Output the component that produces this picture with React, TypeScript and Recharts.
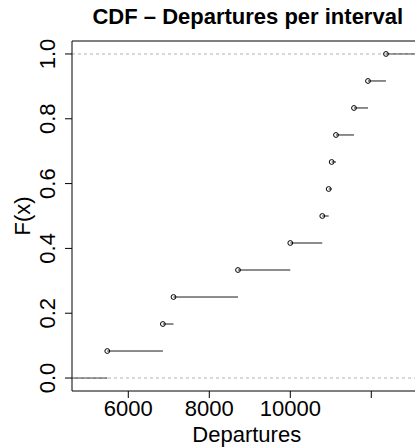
import React from "react";
import {
  ComposedChart,
  XAxis,
  YAxis,
  Scatter,
  ReferenceLine,
} from "recharts";

// Sorted observations (knots of the empirical CDF)
const departures = [5481, 6854, 7116, 8709, 10000, 10790, 10948, 11022, 11128, 11573, 11919, 12363];
// Cumulative probabilities F(x) at each knot
const cdfValues = [1 / 12, 2 / 12, 3 / 12, 4 / 12, 5 / 12, 6 / 12, 7 / 12, 8 / 12, 9 / 12, 10 / 12, 11 / 12, 1];
const xTicks = [6000, 8000, 10000, 12000];
const xTickLabels = ["6000", "8000", "10000", ""];
const yTicks = [0, 0.2, 0.4, 0.6, 0.8, 1.0];
const yTickLabels = ["0.0", "0.2", "0.4", "0.6", "0.8", "1.0"];
const xDomain = [4610, 13240];
const yDomain = [-0.04, 1.04];

const title = "CDF \u2013 Departures per interval";
const xTitle = "Departures";
const yTitle = "F(x)";

const FONT = "'Liberation Sans', Arial, Helvetica, sans-serif";

const W = 430;
const H = 448;
const PLOT_LEFT = 72;
const PLOT_RIGHT = 421.5;
const PLOT_TOP = 41;
const PLOT_BOTTOM = 391;

const points = departures.map((x, i) => ({ x, y: cdfValues[i] }));

// step segments: [xmin..first knot] at 0, then each knot to next, last to xmax
const segments = [
  { x1: xDomain[0], x2: departures[0], y: 0 },
  ...departures.map((x, i) => ({
    x1: x,
    x2: i < departures.length - 1 ? departures[i + 1] : xDomain[1],
    y: cdfValues[i],
  })),
];

const XTick = (props: any) => {
  const { x, payload } = props;
  const idx = xTicks.indexOf(payload.value);
  const label = idx >= 0 ? xTickLabels[idx] : "";
  return (
    <text x={x} y={416} textAnchor="middle" fontFamily={FONT} fontSize={22} fill="#000">
      {label}
    </text>
  );
};

const YTick = (props: any) => {
  const { y, payload } = props;
  const idx = yTicks.findIndex((t) => Math.abs(t - payload.value) < 1e-9);
  const label = idx >= 0 ? yTickLabels[idx] : "";
  const bx = 55;
  return (
    <text
      x={bx}
      y={y}
      transform={`rotate(-90 ${bx} ${y})`}
      textAnchor="middle"
      fontFamily={FONT}
      fontSize={22}
      fill="#000"
    >
      {label}
    </text>
  );
};

const OpenCircle = (props: any) => {
  const { cx, cy } = props;
  return <circle cx={cx} cy={cy} r={2.4} fill="none" stroke="#000" strokeWidth={1} />;
};

export default function App() {
  return (
    <div style={{ position: "absolute", left: 0, top: 0, width: 415, height: 448, overflow: "hidden", background: "#fff" }}>
      <ComposedChart
        width={W}
        height={H}
        margin={{ top: PLOT_TOP, right: W - PLOT_RIGHT, bottom: 0, left: 0 }}
        data={points}
      >
        <XAxis
          type="number"
          dataKey="x"
          domain={xDomain}
          ticks={xTicks}
          allowDataOverflow
          height={H - PLOT_BOTTOM}
          tickSize={7}
          tickLine={{ stroke: "#000", strokeWidth: 1 }}
          axisLine={{ stroke: "#000", strokeWidth: 1 }}
          tick={<XTick />}
          interval={0}
          label={{
            content: () => (
              <text
                x={(PLOT_LEFT + PLOT_RIGHT) / 2}
                y={441.5}
                textAnchor="middle"
                fontFamily={FONT}
                fontSize={22}
                fill="#000"
              >
                {xTitle}
              </text>
            ),
          }}
        />
        <YAxis
          type="number"
          dataKey="y"
          domain={yDomain}
          ticks={yTicks}
          allowDataOverflow
          width={PLOT_LEFT}
          tickSize={7}
          tickLine={{ stroke: "#000", strokeWidth: 1 }}
          axisLine={{ stroke: "#000", strokeWidth: 1 }}
          tick={<YTick />}
          interval={0}
          label={{
            content: () => (
              <text
                x={30}
                y={(PLOT_TOP + PLOT_BOTTOM) / 2}
                transform={`rotate(-90 30 ${(PLOT_TOP + PLOT_BOTTOM) / 2})`}
                textAnchor="middle"
                fontFamily={FONT}
                fontSize={22}
                fill="#000"
              >
                {yTitle}
              </text>
            ),
          }}
        />
        {/* box top and right */}
        <ReferenceLine y={yDomain[1]} stroke="#000" strokeWidth={1} ifOverflow="visible" />
        <ReferenceLine x={xDomain[1]} stroke="#000" strokeWidth={1} ifOverflow="visible" />
        {segments.map((s, i) => (
          <ReferenceLine
            key={`seg-${i}`}
            segment={[
              { x: s.x1, y: s.y },
              { x: s.x2, y: s.y },
            ]}
            stroke="#1a1a1a"
            strokeWidth={1}
            ifOverflow="visible"
          />
        ))}
        <ReferenceLine y={0} stroke="#b3b3b3" strokeDasharray="3 3" strokeWidth={1} />
        <ReferenceLine y={1} stroke="#b3b3b3" strokeDasharray="3 3" strokeWidth={1} />
        <Scatter data={points} dataKey="y" shape={<OpenCircle />} isAnimationActive={false} />
      </ComposedChart>
      <div
        style={{
          position: "absolute",
          left: 0,
          width: (PLOT_LEFT + PLOT_RIGHT) + 2,
          top: 4,
          textAlign: "center",
          fontFamily: FONT,
          fontWeight: "bold",
          fontSize: 22,
          lineHeight: "26px",
          color: "#000",
          whiteSpace: "nowrap",
        }}
      >
        {title}
      </div>
    </div>
  );
}
